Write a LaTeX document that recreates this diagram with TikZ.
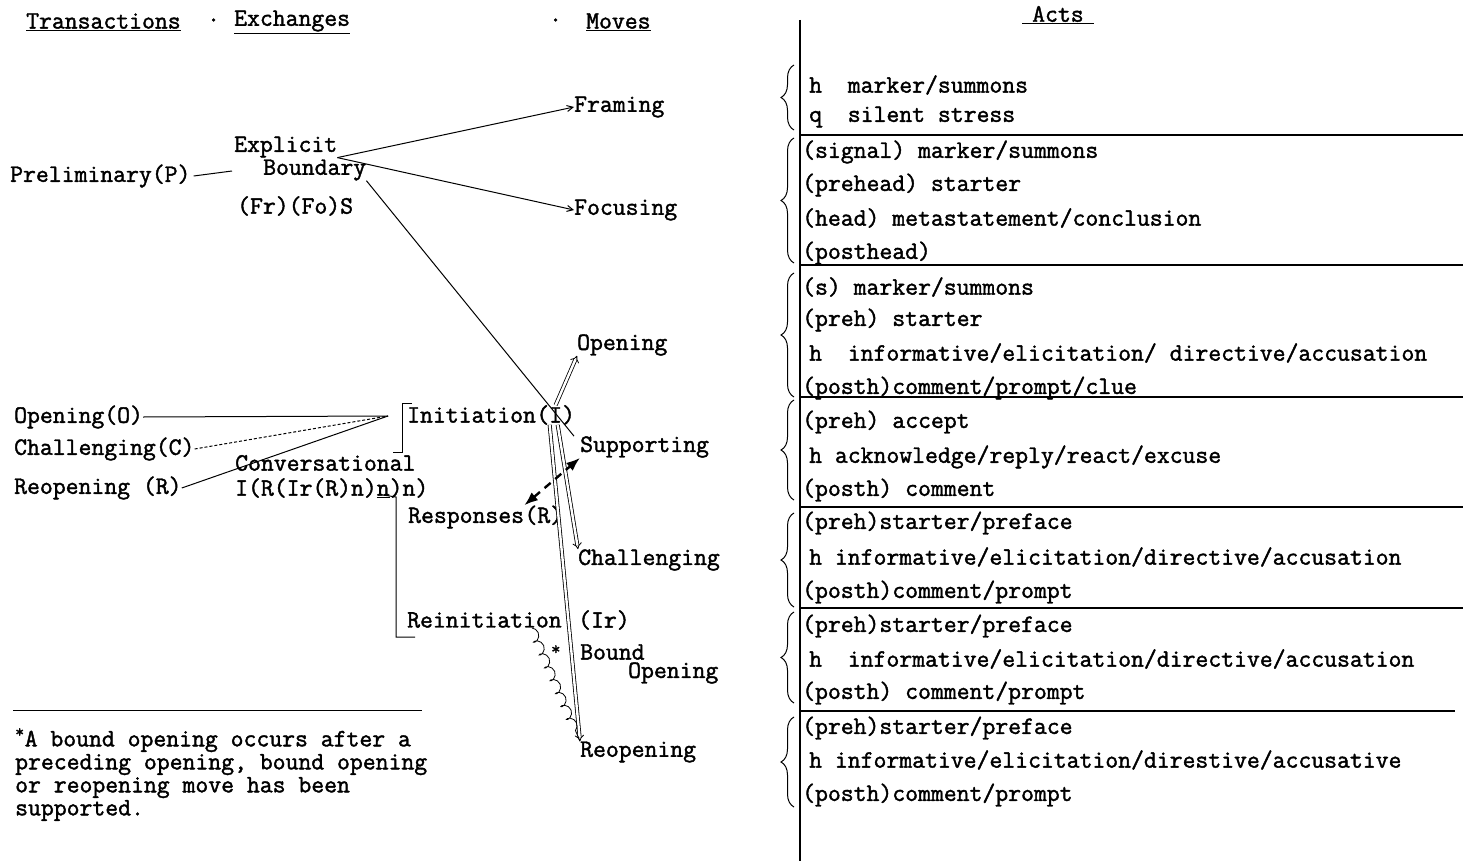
\documentclass[tikz,border=0pt]{standalone}
\usepackage{fontspec}
\newfontfamily\typer{Latin Modern Mono}[FakeBold=1.6]
\usetikzlibrary{arrows.meta,positioning,decorations.pathreplacing,decorations.pathmorphing}

\begin{document}
\begin{tikzpicture}[x=1pt, y=-1pt,
  lbl/.style={font={\fontsize{25}{23}\selectfont\typer}, inner sep=0pt, anchor=west},
  rule/.style={line width=1.4pt},
  link/.style={line width=1pt},
  arr/.style={line width=1pt, -{Straight Barb[length=6pt, width=6pt]}},
  dbl/.style={double, double distance=2.4pt, line width=0.8pt, -{Implies}},
  brc/.style={decorate, decoration={brace, amplitude=13pt}, line width=1pt}]
\useasboundingbox (0,0) rectangle (1463,861);
\node[lbl] (trans) at (26,22) {\underline{Transactions}};
\node[lbl] (dota) at (207,20) {.};
\node[lbl] (exch) at (234,22) {\underline{Exchanges}};
\node[lbl] (dotb) at (549,20) {.};
\node[lbl] (moves) at (586,22) {\underline{Moves}};
\node[lbl] (acts) at (1022,15) {\underline{\hspace{10pt}Acts\hspace{10pt}}};
\node[lbl] (prelim) at (10,176) {Preliminary(P)};
\node[lbl] (explicit) at (234,147) {Explicit};
\node[lbl] (boundary) at (263,170) {Boundary};
\node[lbl] (frfo) at (237,206) {(Fr)(Fo)S};
\node[lbl] (framing) at (574,107) {Framing};
\node[lbl] (focusing) at (574,210) {Focusing};
\coordinate (eb) at (232,171);
\draw[link] ([xshift=3pt]prelim.east) -- (eb);
\draw[arr] (explicit.south east) -- (framing.west);
\draw[arr] (explicit.south east) -- (focusing.west);
\node[lbl] (initiation) at (407,415) {Initiation};
\node[lbl, base right=0pt of initiation] (ini) {(I)};
\node[lbl] (opening) at (577,345) {Opening};
\node[lbl] (supporting) at (580,447) {Supporting};
\node[lbl] (responses) at (408,518) {Responses};
\node[lbl, base right=0pt of responses] (resp) {(R)};
\node[lbl] (challenging) at (578,560) {Challenging};
\node[lbl] (reinit) at (407,620) {Reinitiation};
\node[lbl] (reir) at (578,620) {(Ir)};
\node[lbl, font={\fontsize{18}{20}\selectfont\typer}] (star) at (551,650) {*};
\node[lbl] (bound) at (580,652) {Bound};
\node[lbl] (bopening) at (628,673) {Opening};
\node[lbl] (reopening) at (580,752) {Reopening};
\draw[link] (boundary.south east) -- ([xshift=-6pt]supporting.north west);
\draw[dbl] (ini.north) -- (opening.south west);
\draw[dbl] ([xshift=2pt]ini.south) -- (challenging.north west);
\draw[dbl] ([xshift=-6pt]ini.south) -- (reopening.north west);
\draw[line width=2.4pt, dash pattern=on 8pt off 6pt, {Latex}-{Latex}] (resp.north west) -- (supporting.south west);
\draw[line width=0.8pt, decorate, decoration={coil, aspect=0.8, segment length=14pt, amplitude=4pt}] ([xshift=-30pt]reinit.south east) -- (reopening.north west);
\node[lbl] (opo) at (14,417) {Opening(O)};
\node[lbl] (chc) at (14,449) {Challenging(C)};
\node[lbl] (reo) at (14,488) {Reopening (R)};
\node[lbl] (conv) at (235,463) {Conversational};
\node[lbl] (irn) at (235,488) {I(R(Ir(R)n)\underline{n})n)};
\coordinate (join) at (388,416);
\draw[link] (opo.east) -- (join);
\draw[link, dash pattern=on 3pt off 2pt] (chc.east) -- (join);
\draw[link] (reo.east) -- (join);
\draw[link] (412,403) -- (402,403) -- (402,452) -- (393,452);
\draw[link] (383,495) -- (396,497) -- (396,637) -- (415,637);
\draw[link] (13,710) -- (422,710);
\node[lbl, align=left, anchor=north west] (note) at (15,728) {\textsuperscript{*}A bound opening occurs after a\\preceding opening, bound opening\\or reopening move has been\\supported.};
\draw[rule] (800,20) -- (800,861);
\draw[rule] (800,135) -- (1463,135);
\draw[rule] (800,265) -- (1463,265);
\draw[rule] (800,397) -- (1463,397);
\draw[rule] (800,507) -- (1463,507);
\draw[rule] (800,608) -- (1463,608);
\draw[rule] (800,711) -- (1455,711);
\draw[brc] (794,130) -- (794,65);
\draw[brc] (794,263) -- (794,138);
\draw[brc] (794,397) -- (794,273);
\draw[brc] (794,500) -- (794,400);
\draw[brc] (794,607) -- (794,513);
\draw[brc] (794,703) -- (794,612);
\draw[brc] (794,807) -- (794,717);
\node[lbl] (hsum) at (809,85) {h\ \ marker/summons};
\node[lbl] (qsil) at (809,117) {q\ \ silent stress};
\node[lbl] (sigb) at (802,152) {(signal) marker/summons};
\node[lbl] (preb) at (802,185) {(prehead) starter};
\node[lbl] (headb) at (802,218) {(head) metastatement/conclusion};
\node[lbl] (postb) at (802,253) {(posthead)};
\node[lbl] (sigo) at (802,287) {(s) marker/summons};
\node[lbl] (preo) at (802,320) {(preh) starter};
\node[lbl] (heado) at (809,353) {h\ \ informative/elicitation/ directive/accusation};
\node[lbl] (posto) at (802,388) {(posth)comment/prompt/clue};
\node[lbl] (prea) at (802,422) {(preh) accept};
\node[lbl] (heada) at (809,457) {h acknowledge/reply/react/excuse};
\node[lbl] (posta) at (802,490) {(posth) comment};
\node[lbl] (prec) at (802,523) {(preh)starter/preface};
\node[lbl] (headc) at (809,557) {h informative/elicitation/directive/accusation};
\node[lbl] (postc) at (802,592) {(posth)comment/prompt};
\node[lbl] (prer) at (802,626) {(preh)starter/preface};
\node[lbl] (headr) at (809,659) {h\ \ informative/elicitation/directive/accusation};
\node[lbl] (postr) at (802,693) {(posth) comment/prompt};
\node[lbl] (prei) at (802,728) {(preh)starter/preface};
\node[lbl] (headi) at (809,760) {h informative/elicitation/direstive/accusative};
\node[lbl] (posti) at (802,795) {(posth)comment/prompt};
\end{tikzpicture}
\end{document}
